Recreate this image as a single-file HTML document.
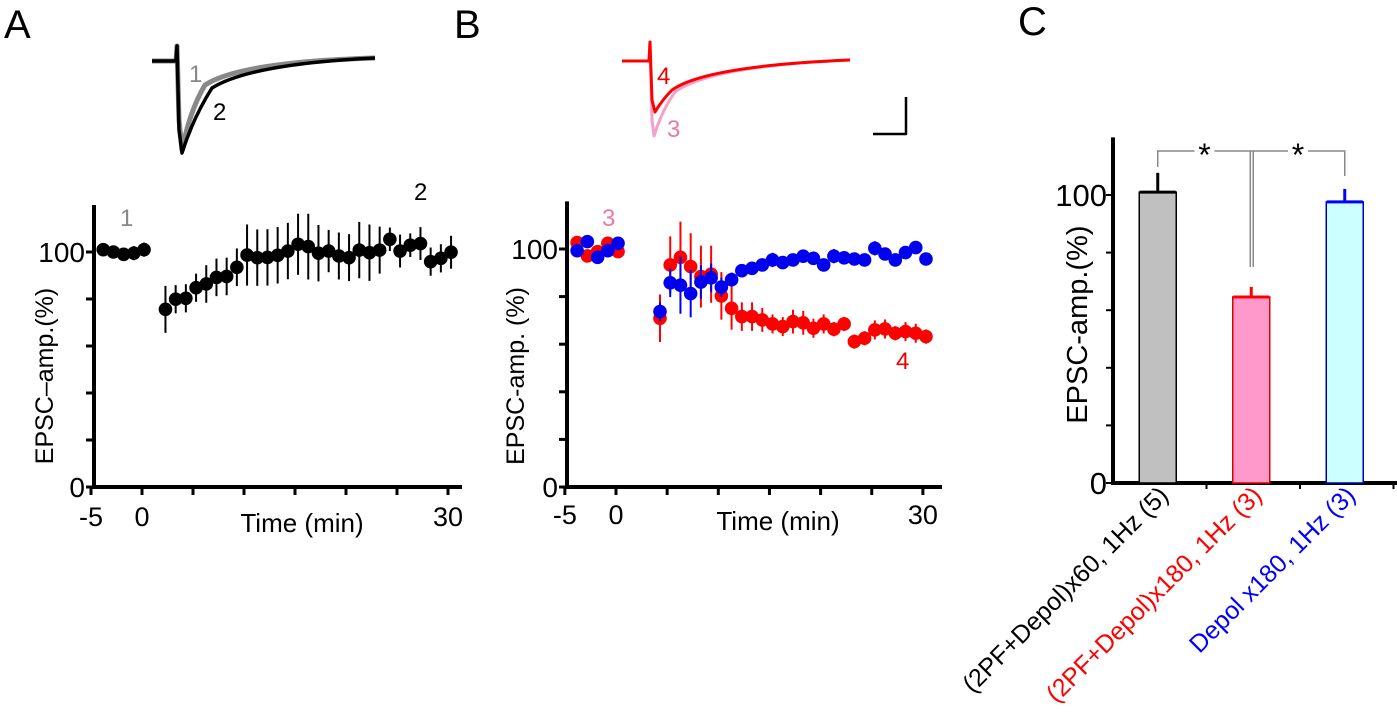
<!DOCTYPE html>
<html><head><meta charset="utf-8"><style>
html,body{margin:0;padding:0;background:#fff}
svg{display:block}
text{font-family:"Liberation Sans Narrow","Liberation Sans",sans-serif}
</style></head><body>
<svg id="fig" width="1397" height="721" viewBox="0 0 1397 721" xmlns="http://www.w3.org/2000/svg">
<g>
<text x="4" y="38" font-size="40">A</text>
<text x="454" y="38" font-size="40">B</text>
<text x="1018" y="35" font-size="40">C</text>
</g>
<g fill="none" stroke-linejoin="round">
<path d="M152,61 L176,61 L177,46 L179,120 L182,150 Q190,110 205,85 Q240,62 375,58" stroke="#888" stroke-width="5"/>
<path d="M152,61 L176,61 L177,46 L179,130 L182,153 Q193,118 212,88 Q250,64 375,58" stroke="#000" stroke-width="3.5"/>
<text x="189" y="82" font-size="24" fill="#888">1</text>
<text x="213" y="120" font-size="24" fill="#000">2</text>
</g>
<g fill="none" stroke-linejoin="round">
<path d="M622,61 L649,61 L650,42 L652,120 L654,136 Q662,110 675,92 Q710,66 850,60" stroke="#f4a0c8" stroke-width="3"/>
<path d="M622,61 L649,61 L650,42 L652,100 L655,112 Q662,100 672,90 Q705,66 850,60" stroke="#f00" stroke-width="3"/>
<text x="657" y="84" font-size="24" fill="#e00">4</text>
<text x="667" y="137" font-size="24" fill="#e87aa8">3</text>
<path d="M906,97 L906,134 L873,134" stroke="#000" stroke-width="2.5"/>
</g>
<g id="pa"></g>
<g id="pb"></g>
<g id="pc"></g>
</svg>
<script>
// Panel A data
const aPreT = [-3.8,-2.8,-1.8,-0.8,0.2];
const aPreV = [101,100,99,99.5,101];
const aPreE = [2,2,2,3,3];
const aPostT = [2.3,3.3,4.3,5.3,6.3,7.3,8.3,9.3,10.3,11.3,12.3,13.3,14.3,15.3,16.3,17.3,18.3,19.3,20.3,21.3,22.3,23.3,24.3,25.3,26.3,27.3,28.3,29.3,30.3];
const aPostV = [75.6,79.9,80.3,84.8,86.4,89.2,89.6,93.5,98.7,97.6,97.7,98.6,100.4,103.3,102.3,99.5,100.4,98.3,97.6,100.8,99.7,100.8,105.4,100.4,102.9,103.6,95.9,97.3,99.9];
const aPostE = [10,6,6,6,8,8,8,8,13,12,12,12,12,13,14,12,9,10,10,12,12,10,5,7,5,7,6,6,7];
// Panel B data
const bPreT = [-3.8,-2.8,-1.8,-0.8,0.2];
const bRedPreV = [102.7,97.1,98.9,102.4,98.9];
const bBluePreV = [99.3,103.1,96.5,99.3,102.4];
const bPostT = [4.3,5.3,6.3,7.3,8.3,9.3,10.3,11.3,12.3,13.3,14.3,15.3,16.3,17.3,18.3,19.3,20.3,21.3,22.3,23.3,24.3,25.3,26.3,27.3,28.3,29.3,30.3];
const bRedV = [70.9,93.3,96.5,92.6,88.4,89.4,80.3,75.1,71.6,71.6,70.2,68.5,67.4,69.5,69.0,66.7,68.5,66.3,68.5,61.1,62.5,66.0,66.4,64.6,65.3,64.6,63.2];
const bRedE = [10,12,15,14,13,12,10,9,6,6,5,4,4,5,5,4,4,3,3,3,3,4,4,3,4,4,3];
const bBlueV = [73.7,85.8,84.8,81.3,86.1,87.9,84.0,87.1,90.9,91.9,93.3,95.4,94.3,95.4,97.0,96.1,93.3,97.0,96.3,95.8,95.4,100.3,97.9,95.4,98.5,100.6,95.8];
const bBlueE = [4,6,12,10,7,6,4,3,2,2,2,3,2,2,2,2,2,3,2,2,2,3,2,2,2,2,2];
// Panel C data
const cCats = ["(2PF+Depol)x60, 1Hz (5)","(2PF+Depol)x180, 1Hz (3)","Depol x180, 1Hz (3)"];
const cVals = [101,64.6,97.6];
const cErrs = [6.7,3.5,4.5];
const yTicks = [0,20,40,60,80,100];
const yTickLabels = ["0","","","","","100"];
const xTicks = [-5,0,5,10,15,20,25,30];
const xTickLabels = ["-5","0","","","","","","30"];

const NS="http://www.w3.org/2000/svg";
function mk(parent,tag,attrs){const e=document.createElementNS(NS,tag);for(const k in attrs)e.setAttribute(k,attrs[k]);parent.appendChild(e);return e;}

function timeAxes(g,X,Y,x0,x1,titleX,titleText,timeY,timeX){
  const ax=mk(g,'path',{d:`M${x0},${Y(120)} L${x0},${Y(0)} L${x1},${Y(0)}`,fill:'none',stroke:'#000','stroke-width':4});
  
  yTicks.forEach((v,i)=>{
    const t=mk(g,'line',{x1:x0-8,x2:x0,y1:Y(v),y2:Y(v),stroke:'#000','stroke-width':3});
    
    if(yTickLabels[i]){const l=mk(g,'text',{x:x0-9,y:Y(v)+10,'font-size':28,'text-anchor':'end'});l.textContent=yTickLabels[i];
      }
  });
  xTicks.forEach((v,i)=>{
    const t=mk(g,'line',{x1:X(v),x2:X(v),y1:Y(0),y2:Y(0)+8,stroke:'#000','stroke-width':3});
    
    if(xTickLabels[i]){const l=mk(g,'text',{x:X(v),y:timeY,'font-size':27,'text-anchor':'middle'});l.textContent=xTickLabels[i];
      }
  });
  const tt=mk(g,'text',{x:timeX,y:timeY+6,'font-size':26,'text-anchor':'middle'});tt.textContent='Time (min)';
  
  const yt=mk(g,'text',{x:0,y:0,'font-size':25,'text-anchor':'middle',transform:`translate(${titleX},376) rotate(-90)`});
  yt.textContent=titleText;
}
function series(g,X,Y,ts,vs,es,color,name){
  ts.forEach((t,i)=>{
    if(es&&es[i]){const e=mk(g,'line',{x1:X(t),x2:X(t),y1:Y(vs[i]+es[i]),y2:Y(vs[i]-es[i]),stroke:color,'stroke-width':2});
      }
    const c=mk(g,'circle',{cx:X(t),cy:Y(vs[i]),r:6.8,fill:color});
    
  });
}
// Panel A
(function(){
  const g=document.getElementById('pa');
  const X=t=>142+t*10.2, Y=v=>487-v*2.35;
  timeAxes(g,X,Y,94,462,53,'EPSC–amp.(%)',526,302);
  series(g,X,Y,aPreT,aPreV,aPreE,'#000','series-a-baseline');
  series(g,X,Y,aPostT,aPostV,aPostE,'#000','series-a');
  const l1=mk(g,'text',{x:120,y:226,'font-size':24,fill:'#888'});l1.textContent='1';
  const l2=mk(g,'text',{x:414,y:200,'font-size':24});l2.textContent='2';
})();
// Panel B
(function(){
  const g=document.getElementById('pb');
  const X=t=>616+t*10.23, Y=v=>487-v*2.38;
  timeAxes(g,X,Y,567,942,524,'EPSC-amp. (%)',524,778);
  series(g,X,Y,bPreT,bRedPreV,null,'#f00','series-b-red-baseline');
  series(g,X,Y,bPreT,bBluePreV,null,'#00e','series-b-blue-baseline');
  series(g,X,Y,bPostT,bRedV,bRedE,'#f00','series-b-red');
  series(g,X,Y,bPostT,bBlueV,bBlueE,'#00e','series-b-blue');
  const l3=mk(g,'text',{x:602,y:226,'font-size':24,fill:'#ee78a8'});l3.textContent='3';
  const l4=mk(g,'text',{x:896,y:369,'font-size':24,fill:'#e00'});l4.textContent='4';
})();
// Panel C
(function(){
  const g=document.getElementById('pc');
  const Y=v=>483-v*2.88;
  const x0=1113, band=93.5;
  const ax=mk(g,'path',{d:`M${x0},${Y(120)} L${x0},${Y(0)} L1397,${Y(0)}`,fill:'none',stroke:'#000','stroke-width':4});
  
  yTicks.forEach((v,i)=>{
    const t=mk(g,'line',{x1:x0-7,x2:x0,y1:Y(v),y2:Y(v),stroke:'#000','stroke-width':2});
    
    if(yTickLabels[i]){const l=mk(g,'text',{x:x0-6,y:Y(v)+11,'font-size':31,'text-anchor':'end'});l.textContent=yTickLabels[i];
      }
  });
  [1,2,3].forEach(k=>{const t=mk(g,'line',{x1:x0+k*band,x2:x0+k*band,y1:Y(0),y2:Y(0)+6,stroke:'#000','stroke-width':2});
    });
  const fills=['#c0c0c0','#ff99cc','#ccffff'], strokes=['#000','#e00000','#0000c0'], ecol=['#000','#f00','#00f'], tcol=['#000','#f00','#00f'];
  const centers=[];
  cVals.forEach((v,i)=>{
    const cx=x0+band*(i+0.5)-2; centers.push(cx);
    const r=mk(g,'rect',{x:cx-18.5,y:Y(v),width:37,height:Y(0)-Y(v),fill:fills[i],stroke:strokes[i],'stroke-width':1.5});
    
    const e=mk(g,'line',{x1:cx,x2:cx,y1:Y(v),y2:Y(v+cErrs[i]),stroke:ecol[i],'stroke-width':3});
    
    const cap=mk(g,'line',{x1:cx-18,x2:cx+18,y1:Y(v),y2:Y(v),stroke:ecol[i],'stroke-width':3});
    
    const l=mk(g,'text',{x:0,y:0,'font-size':25,'text-anchor':'end',fill:tcol[i],transform:`translate(${cx+12},${Y(0)+14}) rotate(-45)`});
    l.textContent=cCats[i];
  });
  const by=151;
  const br=mk(g,'path',{d:`M${centers[0]},${Y(cVals[0]+cErrs[0])-6} L${centers[0]},${by} L${centers[2]},${by} L${centers[2]},${Y(cVals[2]+cErrs[2])-13} M${centers[1]-1},${by} L${centers[1]-1},${Y(cVals[1]+cErrs[1])-20} M${centers[1]+2},${by} L${centers[1]+2},${Y(cVals[1]+cErrs[1])-20}`,fill:'none',stroke:'#888','stroke-width':1.5});
  
  [(centers[0]+centers[1])/2,(centers[1]+centers[2])/2].forEach((x,i)=>{
    const bg=mk(g,'rect',{x:x-10,y:by-6,width:20,height:12,fill:'#fff'});
    
    const s=mk(g,'text',{x:x,y:by+15,'font-size':32,'text-anchor':'middle'});s.textContent='*';
    
  });
  const yt=mk(g,'text',{x:0,y:0,'font-size':29,'text-anchor':'middle',transform:`translate(1087,${Y(55)}) rotate(-90)`});
  yt.textContent='EPSC-amp.(%)';
})();
</script>
</body></html>
